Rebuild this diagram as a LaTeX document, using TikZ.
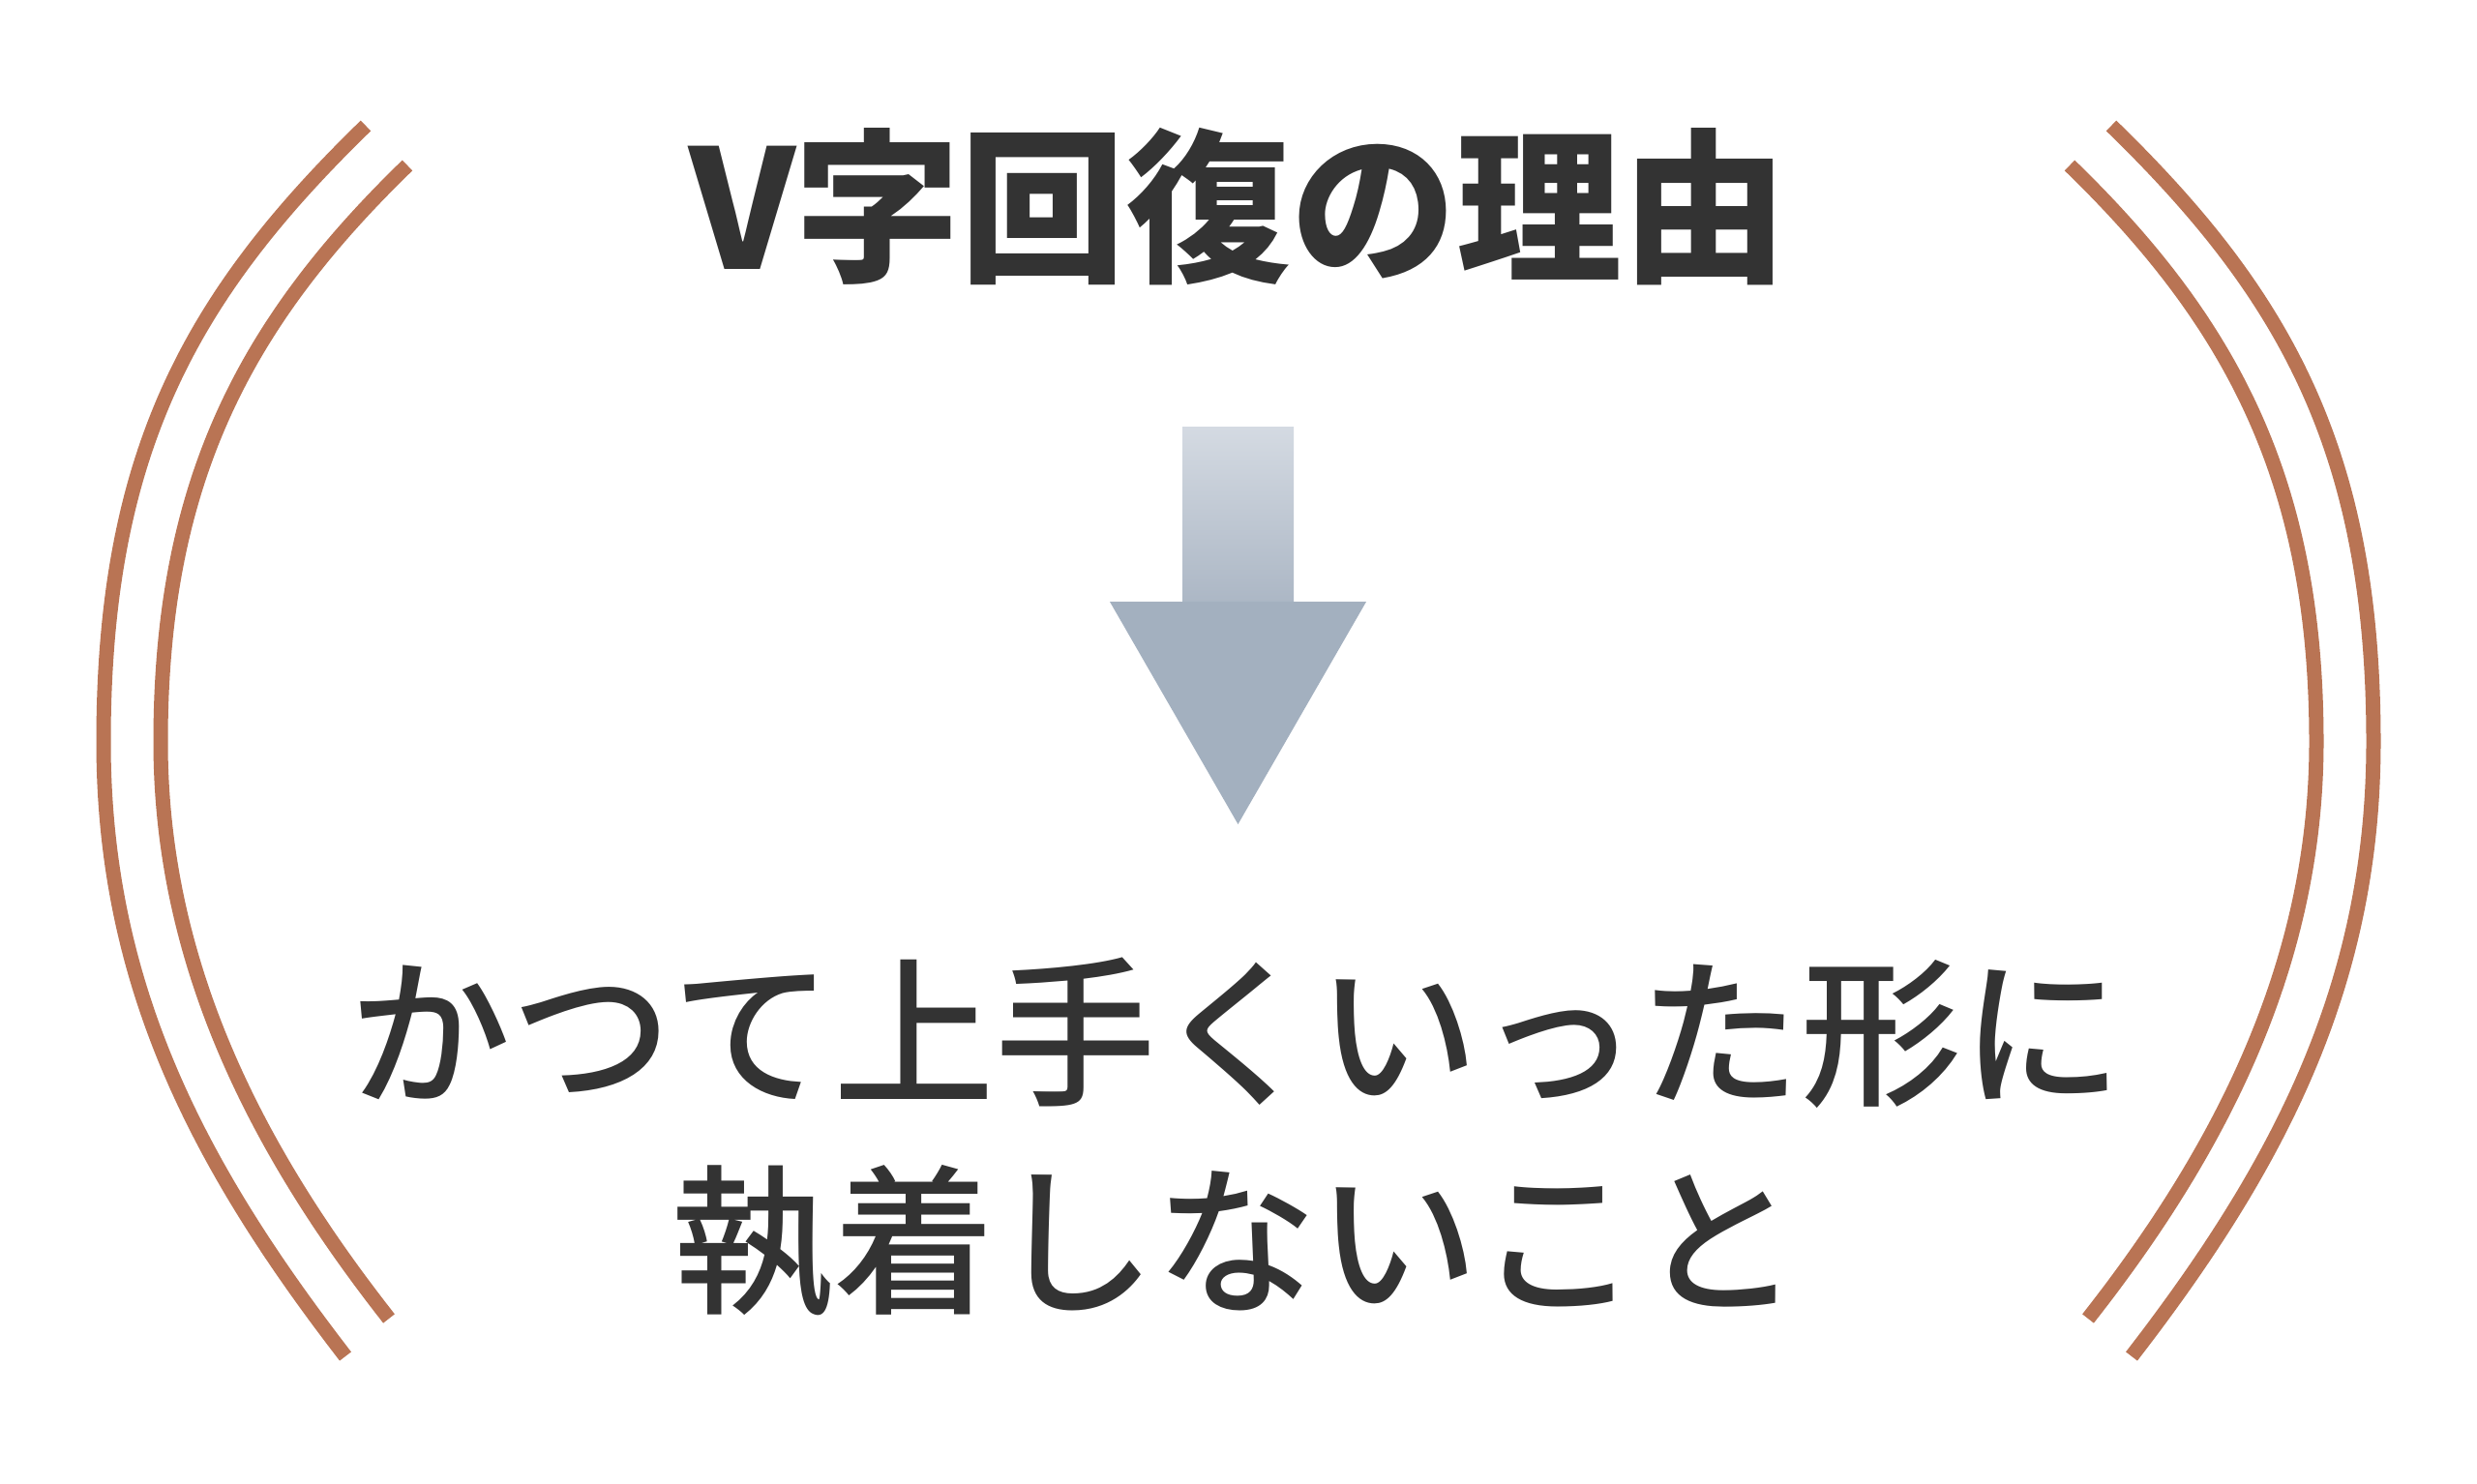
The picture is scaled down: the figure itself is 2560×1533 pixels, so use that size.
\documentclass[tikz,border=0pt]{standalone}
\RequirePackage{fontspec}
\RequirePackage{xcolor}
\RequirePackage{tikz}

\newfontfamily\jpfont{Noto Sans CJK JP}
\newfontfamily\jpmedium{Noto Sans CJK JP Medium}
\definecolor{InkGray}{HTML}{333333}
\definecolor{Copper}{HTML}{B97454}
\definecolor{ShaftTop}{HTML}{D4DAE2}
\definecolor{ShaftBottom}{HTML}{ACB7C5}
\definecolor{HeadGray}{HTML}{A3B0BF}

\begin{document}
\begin{tikzpicture}[x=0.5pt, y=0.5pt]
    \useasboundingbox (0, 0) rectangle (2560, 1533);

    \foreach \side in {1, -1} {
        \begin{scope}[shift={(1280, 0)}, xscale=\side]
            \draw[color=Copper, line width=7.5pt] (-902, 1403) .. controls (-1082, 1228) and (-1173, 1066) .. (-1173, 766) .. controls (-1173, 516) and (-1076, 329) .. (-923, 131);
            \draw[color=Copper, line width=7.5pt] (-859, 1362) .. controls (-1026, 1200) and (-1114, 1036) .. (-1114, 766) .. controls (-1114, 536) and (-1014, 343) .. (-878, 170);
        \end{scope}
    }

    \node[anchor=base, color=InkGray] (title) at (1280, 1254) {\jpfont\bfseries\fontsize{85.5pt}{100pt}\selectfont V字回復の理由};

    \shade[top color=ShaftTop, bottom color=ShaftBottom] (1222, 911) rectangle (1337, 1091);
    \fill[color=HeadGray] (1147, 911) -- (1412, 911) -- (1279.5, 681) -- cycle;

    \node[anchor=base, color=InkGray] (lessonA) at (1278, 402) {\jpmedium\fontsize{83.3pt}{100pt}\selectfont かつて上手くいった形に};
    \node[anchor=base, color=InkGray] (lessonB) at (1278, 188) {\jpmedium\fontsize{83.3pt}{100pt}\selectfont 執着しないこと};
\end{tikzpicture}
\end{document}
